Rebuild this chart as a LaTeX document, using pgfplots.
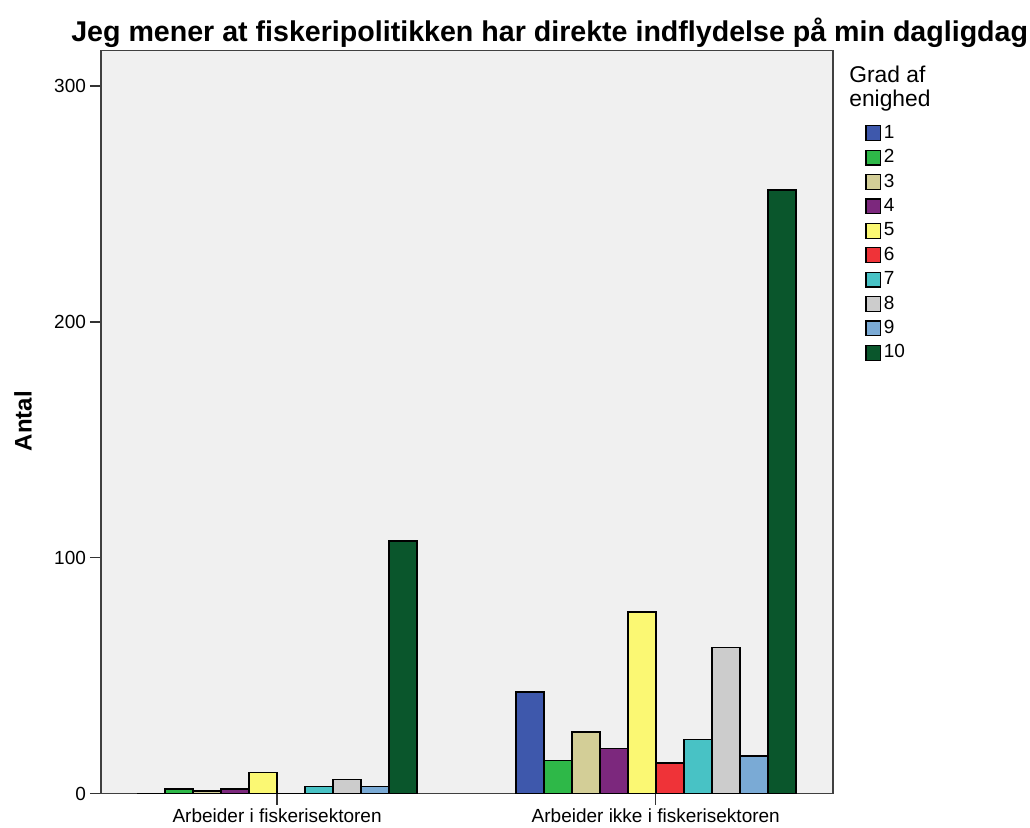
\documentclass[border=0pt]{standalone}
\usepackage{pgfplots}
\pgfplotsset{compat=1.18}
\usepackage{fontspec}
\setmainfont{Liberation Sans}
\definecolor{c1}{HTML}{3E58AC}
\definecolor{c2}{HTML}{2EB848}
\definecolor{c3}{HTML}{D3CE97}
\definecolor{c4}{HTML}{7C287D}
\definecolor{c5}{HTML}{FBF873}
\definecolor{c6}{HTML}{EF3338}
\definecolor{c7}{HTML}{48C2C5}
\definecolor{c8}{HTML}{CCCCCC}
\definecolor{c9}{HTML}{7AAAD5}
\definecolor{c10}{HTML}{0A562C}
\definecolor{bg}{HTML}{F0F0F0}
\begin{document}
\begin{tikzpicture}
\useasboundingbox (-50.5pt,-16.75pt) rectangle (464.5pt,396.75pt);
\begin{axis}[
  at={(0,0)}, anchor=south west,
  scale only axis, width=366pt, height=371.5pt,
  ybar=0pt, bar width=14pt,
  xmin=-0.465, xmax=1.468, ymin=0, ymax=315.1,
  xtick={0,1}, xticklabels={Arbeider i fiskerisektoren, Arbeider ikke i fiskerisektoren},
  ytick={0,100,200,300},
  xtick pos=bottom, ytick pos=left,
  tick align=outside, major tick length=5.5pt,
  xtick style={black!80, line width=0.7pt}, ytick style={black!80, line width=0.7pt},
  tick label style={font=\fontsize{9.5}{11}\selectfont},
  yticklabel style={xshift=1.5pt},
  xticklabel style={yshift=1.2pt},
  /pgf/number format/assume math mode=true,
  axis line style={black!75, line width=0.9pt},
  axis background/.style={fill=bg},
  every axis plot/.append style={draw=black, line width=0.75pt},
  legend cell align=left,
  legend image code/.code={\draw[#1, line width=0.6pt] (0pt,-3.6pt) rectangle (7.4pt,3.8pt);},
  legend style={at={(rel axis cs:1,1)}, anchor=north west, xshift=16pt, yshift=-35.5pt,
    draw=none, fill=none, font=\fontsize{9.5}{11}\selectfont, inner sep=0pt, row sep=0.8pt,
    nodes={inner sep=1.2pt, text height=7pt, text depth=2pt}},
  clip=false,
]
\addplot[fill=c1] coordinates {(0,0) (1,43)};
\addplot[fill=c2] coordinates {(0,2) (1,14)};
\addplot[fill=c3] coordinates {(0,1) (1,26)};
\addplot[fill=c4] coordinates {(0,2) (1,19)};
\addplot[fill=c5] coordinates {(0,9) (1,77)};
\addplot[fill=c6] coordinates {(0,0) (1,13)};
\addplot[fill=c7] coordinates {(0,3) (1,23)};
\addplot[fill=c8] coordinates {(0,6) (1,62)};
\addplot[fill=c9] coordinates {(0,3) (1,16)};
\addplot[fill=c10] coordinates {(0,107) (1,256)};
\legend{1,2,3,4,5,6,7,8,9,10}
\node[anchor=base, font=\bfseries\fontsize{14.3}{17}\selectfont, inner sep=0pt] at (rel axis cs:0.613,1) [yshift=4.75pt] {Jeg mener at fiskeripolitikken har direkte indflydelse på min dagligdag};
\path (rel axis cs:0,0.501) ++(-39pt,0pt) node[rotate=90, anchor=center, font=\bfseries\fontsize{12}{14}\selectfont, inner sep=0pt] {Antal};
\node[anchor=north west, align=left, font=\fontsize{11.4}{11.8}\selectfont, inner sep=0pt] at (rel axis cs:1,1) [xshift=8pt, yshift=-7.5pt] {Grad af\\enighed};
\end{axis}
\end{tikzpicture}
\end{document}
